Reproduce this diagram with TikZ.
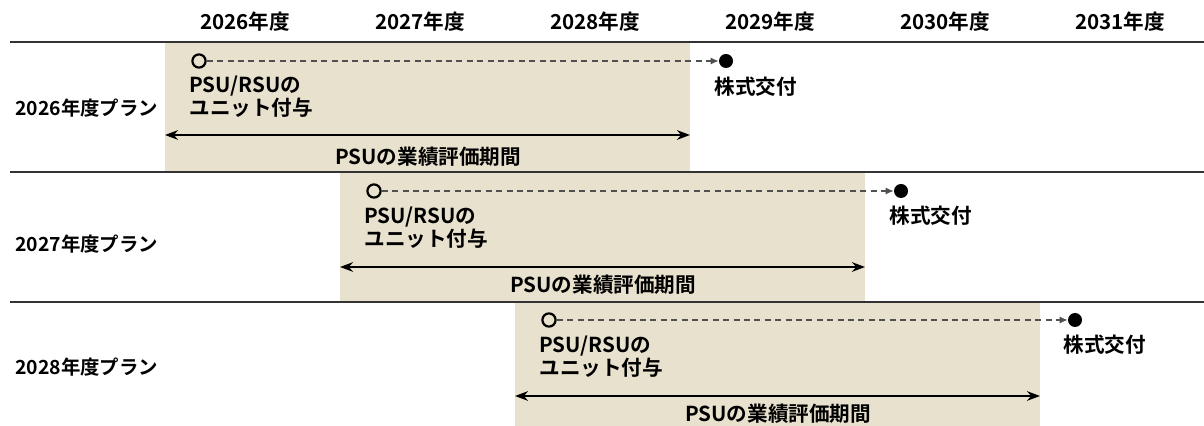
\documentclass[tikz,border=0pt]{standalone}
\usepackage{fontspec}
\setmainfont{Noto Sans CJK JP}[BoldFont={Noto Sans CJK JP Bold}]
\usetikzlibrary{arrows.meta}
\definecolor{beige}{RGB}{232,225,206}
\definecolor{dashgray}{RGB}{80,80,80}
\tikzset{
  yr/.style={font=\bfseries\fontsize{10.3}{12}\selectfont, inner sep=0pt},
  lbl/.style={font=\bfseries\fontsize{10.3}{11.5}\selectfont, inner sep=0pt, align=left},
  plan/.style={font=\bfseries\fontsize{9.7}{11.5}\selectfont, inner sep=0pt, anchor=west},
  rule/.style={draw=black!80, line width=0.8pt},
  grant/.style={circle, draw, line width=1.1pt, minimum size=6.6pt, inner sep=0pt},
  deliver/.style={circle, fill, minimum size=7pt, inner sep=0pt},
  vest/.style={dashgray, dashed, dash pattern=on 3pt off 2.2pt, line width=0.6pt, -{Latex[length=4pt,width=3.6pt]}},
  period/.style={line width=1.1pt, {Stealth[length=6.5pt,width=4.8pt]}-{Stealth[length=6.5pt,width=4.8pt]}}
}
\begin{document}
\begin{tikzpicture}[x=0.5pt, y=-0.5pt, line join=round]
    \useasboundingbox (0,0) rectangle (1204,426);
    % shaded periods
    \fill[beige] (165,43) rectangle (690,171);
    \fill[beige] (340,173) rectangle (865,301);
    \fill[beige] (515,303) rectangle (1040,426);
    % header
    \node[yr] (y26) at (245,22) {2026年度};
    \node[yr] (y27) at (420,22) {2027年度};
    \node[yr] (y28) at (595,22) {2028年度};
    \node[yr] (y29) at (770,22) {2029年度};
    \node[yr] (y30) at (945,22) {2030年度};
    \node[yr] (y31) at (1120,22) {2031年度};
    \draw[rule] (10,42)--(1204,42) (10,172)--(1204,172) (10,302)--(1204,302);
    % 2026 plan
    \node[plan] (p26) at (15,108) {2026年度プラン};
    \node[grant] (g26) at (199,61) {};
    \node[deliver] (d26) at (726,61) {};
    \draw[vest] (g26) -- (d26);
    \node[lbl, anchor=west] (u26) at (189,97) {PSU/RSUの\\ユニット付与};
    \node[lbl, anchor=west] (s26) at (714,87) {株式交付};
    \coordinate (a26) at (165,135);
    \coordinate (b26) at (690,135);
    \draw[period] (a26) -- (b26);
    \node[lbl] (e26) at (428,157) {PSUの業績評価期間};
    % 2027 plan
    \node[plan] (p27) at (15,244) {2027年度プラン};
    \node[grant] (g27) at (374,191) {};
    \node[deliver] (d27) at (901,191) {};
    \draw[vest] (g27) -- (d27);
    \node[lbl, anchor=west] (u27) at (364,228) {PSU/RSUの\\ユニット付与};
    \node[lbl, anchor=west] (s27) at (889,216) {株式交付};
    \coordinate (a27) at (340,267);
    \coordinate (b27) at (865,267);
    \draw[period] (a27) -- (b27);
    \node[lbl] (e27) at (603,285) {PSUの業績評価期間};
    % 2028 plan
    \node[plan] (p28) at (15,367) {2028年度プラン};
    \node[grant] (g28) at (549,320) {};
    \node[deliver] (d28) at (1075,320) {};
    \draw[vest] (g28) -- (d28);
    \node[lbl, anchor=west] (u28) at (539,357) {PSU/RSUの\\ユニット付与};
    \node[lbl, anchor=west] (s28) at (1063,345) {株式交付};
    \coordinate (a28) at (515,396);
    \coordinate (b28) at (1040,396);
    \draw[period] (a28) -- (b28);
    \node[lbl] (e28) at (778,414) {PSUの業績評価期間};
\end{tikzpicture}
\end{document}
